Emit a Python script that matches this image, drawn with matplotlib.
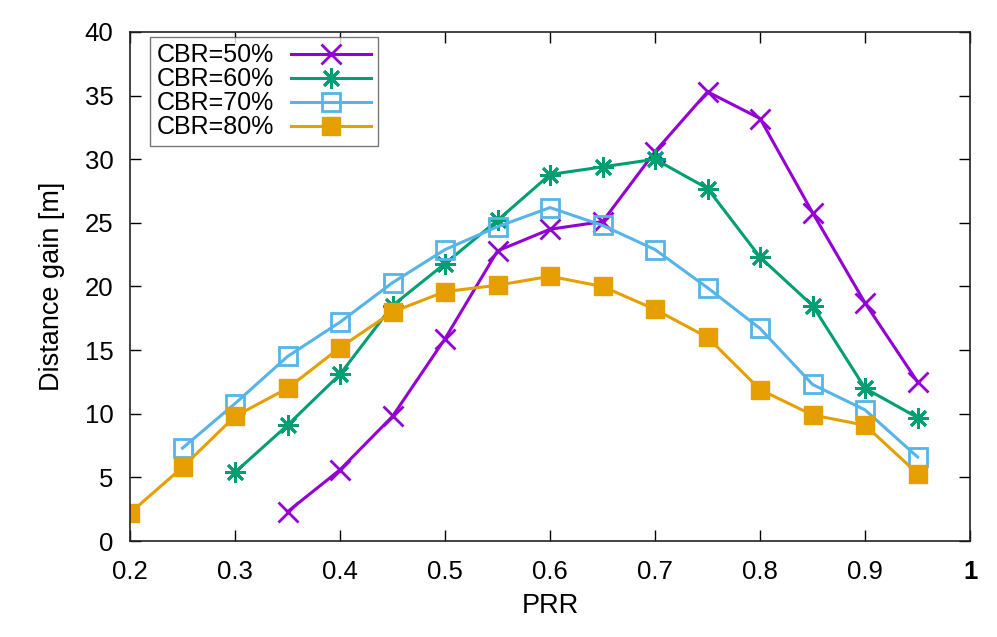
import matplotlib.pyplot as plt

plt.rcParams['font.family'] = ['Liberation Sans', 'DejaVu Sans']

prr = [0.2, 0.25, 0.3, 0.35, 0.4, 0.45, 0.5, 0.55, 0.6, 0.65, 0.7, 0.75, 0.8, 0.85, 0.9, 0.95]

# each series starts at a different PRR
cbr50 = [2.3, 5.6, 9.8, 15.9, 22.8, 24.5, 25.1, 30.6, 35.3, 33.2, 25.8, 18.7, 12.5]
cbr60 = [5.4, 9.1, 13.1, 18.5, 21.8, 25.2, 28.8, 29.4, 30.0, 27.7, 22.3, 18.5, 12.0, 9.7]
cbr70 = [7.3, 10.8, 14.5, 17.2, 20.3, 22.9, 24.7, 26.2, 24.8, 22.9, 19.9, 16.7, 12.3, 10.3, 6.6]
cbr80 = [2.2, 5.8, 9.8, 12.0, 15.2, 18.0, 19.6, 20.1, 20.8, 20.0, 18.2, 16.0, 11.9, 9.9, 9.1, 5.3]

labels = ['CBR=50%', 'CBR=60%', 'CBR=70%', 'CBR=80%']
x_ticks = [0.2, 0.3, 0.4, 0.5, 0.6, 0.7, 0.8, 0.9, 1.0]
x_tick_labels = ['0.2', '0.3', '0.4', '0.5', '0.6', '0.7', '0.8', '0.9', '1']
y_ticks = [0, 5, 10, 15, 20, 25, 30, 35, 40]

fig = plt.figure(figsize=(9.97, 6.37), dpi=100)
ax = fig.add_axes([0.1304, 0.1507, 0.8426, 0.7991])

lw = 2.2
ax.plot(prr[-len(cbr50):], cbr50, color='#9400d3', lw=lw, marker='x',
        ms=14, mew=2.0, label=labels[0])
ax.plot(prr[-len(cbr60):], cbr60, color='#009e73', lw=lw, marker=(8, 2, 0),
        ms=15, mew=2.0, label=labels[1])
ax.plot(prr[-len(cbr70):], cbr70, color='#56b4e9', lw=lw, marker='s',
        ms=13, mew=2.0, mfc='none', label=labels[2])
ax.plot(prr[-len(cbr80):], cbr80, color='#e69f00', lw=lw, marker='s',
        ms=13, mew=1.0, label=labels[3])

ax.set_xlim(0.2, 1.0)
ax.set_ylim(0, 40)
ax.set_xticks(x_ticks)
ax.set_xticklabels(x_tick_labels)
ax.set_yticks(y_ticks)
ax.tick_params(direction='in', top=True, right=True, length=8, width=1,
               labelsize=18.5)
ax.tick_params(axis='x', pad=14)
ax.tick_params(axis='y', pad=12)
ax.get_xticklabels()[-1].set_fontweight('bold')
for s in ax.spines.values():
    s.set_linewidth(1.2)
    s.set_color('#222222')

ax.set_xlabel('PRR', fontsize=19.5, labelpad=6)
ax.set_ylabel('Distance gain [m]', fontsize=19.5, labelpad=14)

leg = ax.legend(loc='upper left', markerfirst=False, fontsize=18,
                frameon=True, fancybox=False, handlelength=3.2,
                labelspacing=0.0, borderpad=0.25, handletextpad=0.7,
                borderaxespad=0, bbox_to_anchor=(0.024, 0.99))
leg.get_frame().set_edgecolor('#555555')
leg.get_frame().set_linewidth(1.0)

fig.savefig('out.png', dpi=100)
